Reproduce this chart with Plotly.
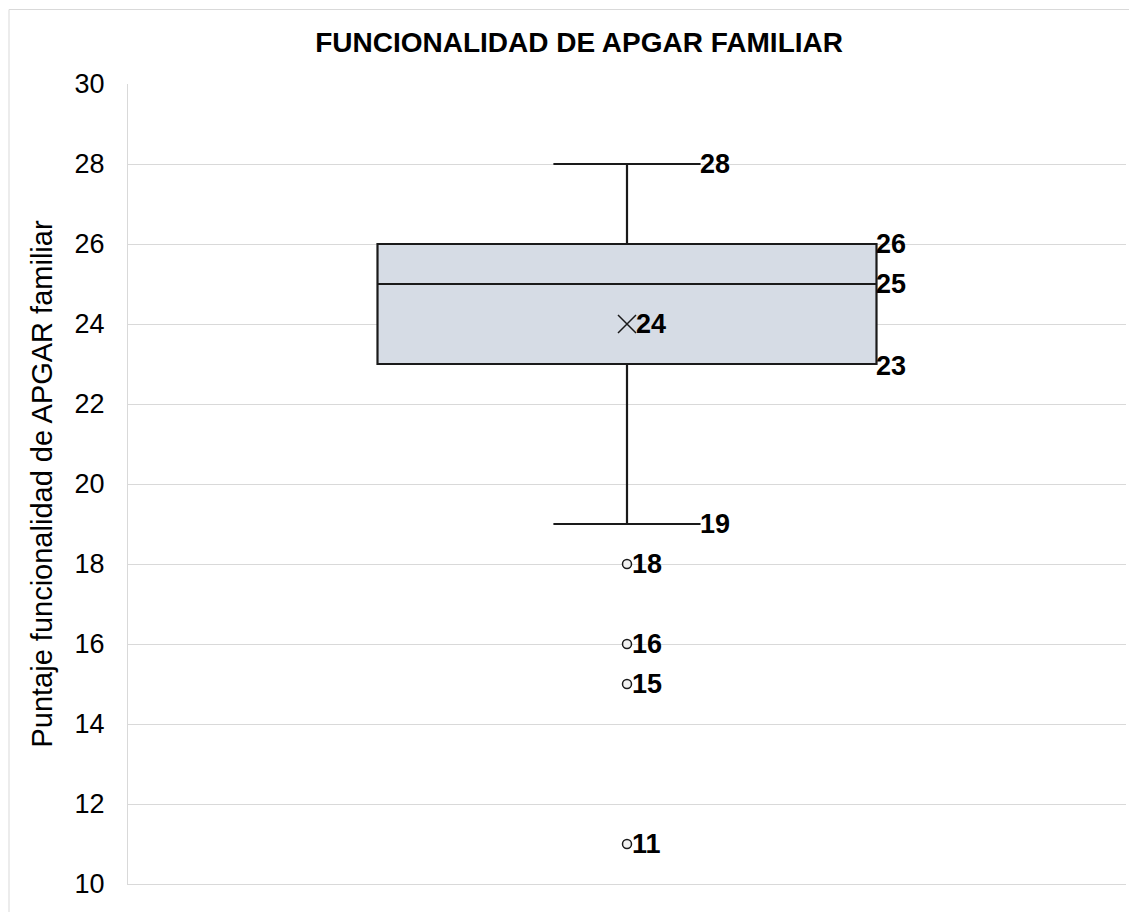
import plotly.graph_objects as go

# Data
q1 = [23]
median = [25]
q3 = [26]
lower_whisker = [19]
upper_whisker = [28]
mean_val = [24]
outliers = [18, 16, 15, 11]
y_ticks = [10, 12, 14, 16, 18, 20, 22, 24, 26, 28, 30]

FONT = "Liberation Sans, Arial, sans-serif"
DARK = "#1a1a1a"

fig = go.Figure()

fig.add_trace(go.Box(
    x=[0], q1=q1, median=median, q3=q3,
    lowerfence=lower_whisker, upperfence=upper_whisker,
    width=1.0, whiskerwidth=0.295,
    fillcolor="#D6DCE5",
    line=dict(color=DARK, width=2.2),
    boxpoints=False, showlegend=False, hoverinfo="skip",
))

# mean marker
fig.add_trace(go.Scatter(
    x=[0], y=mean_val, mode="markers",
    marker=dict(symbol="x-thin-open", size=18, color=DARK, line=dict(color=DARK, width=1.5)),
    showlegend=False, hoverinfo="skip",
))

# outliers
fig.add_trace(go.Scatter(
    x=[0] * len(outliers), y=outliers, mode="markers",
    marker=dict(symbol="circle", size=9, color="#f2f2f2", line=dict(color=DARK, width=1.5)),
    showlegend=False, hoverinfo="skip",
))

lab_font = dict(family=FONT, size=27, color="black")

def label(x, y, val, xshift=0, yshift=0):
    fig.add_annotation(x=x, y=y, text="<b>%d</b>" % val, showarrow=False,
                       xanchor="left", yanchor="middle", xshift=xshift, yshift=yshift,
                       font=lab_font)

label(0.1475, upper_whisker[0], upper_whisker[0], xshift=-3)
label(0.1475, lower_whisker[0], lower_whisker[0], xshift=-3)
label(0.5, q3[0], q3[0], xshift=-3)
label(0.5, median[0], median[0], xshift=-3)
label(0.5, q1[0], q1[0], xshift=-3, yshift=-2)
label(0, mean_val[0], mean_val[0], xshift=7)
for o in outliers:
    label(0, o, o, xshift=3)

fig.update_layout(
    width=1129, height=904,
    margin=dict(l=120, r=11, t=76, b=28),
    paper_bgcolor="white", plot_bgcolor="white",
    title=dict(text="<b>FUNCIONALIDAD DE APGAR FAMILIAR</b>", x=0.5058, xanchor="center",
               y=0.9624, yanchor="middle", font=dict(family=FONT, size=28, color="black")),
    font=dict(family=FONT, size=27, color="black"),
    xaxis=dict(range=[-1, 1], showticklabels=False, showgrid=False, zeroline=False,
               showline=True, linecolor="#D9D9D9", linewidth=1, ticks=""),
    yaxis=dict(range=[10, 30], tickvals=y_ticks, showgrid=True, gridcolor="#D9D9D9",
               gridwidth=1, zeroline=False, showline=True, linecolor="#D9D9D9",
               linewidth=1, ticks="", ticklabelstandoff=17,
               tickfont=dict(family=FONT, size=27, color="black"),
               title=dict(text="Puntaje funcionalidad de APGAR familiar", standoff=13,
                          font=dict(family=FONT, size=29, color="black"))),
    shapes=[dict(type="rect", xref="paper", yref="paper",
                 x0=(1 - 120) / 998, x1=(1145 - 128) / 998,
                 y0=-0.1, y1=1 + 74.5 / 800,
                 line=dict(color="#D9D9D9", width=1), layer="below")],
)

fig.write_html("out.html")
